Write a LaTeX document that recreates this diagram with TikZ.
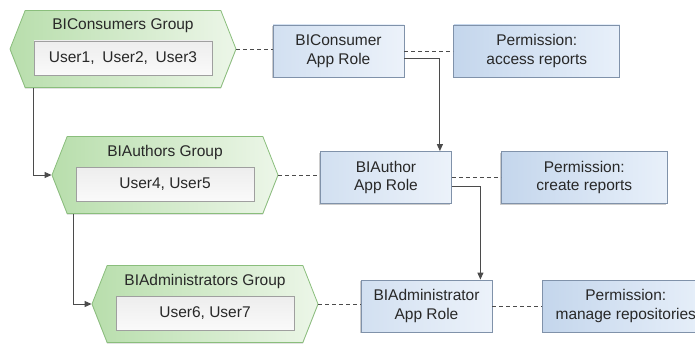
\documentclass[tikz,border=0pt]{standalone}
\usepackage{fontspec}
\setmainfont{Liberation Sans}
\usepackage{tikz}
\usetikzlibrary{shapes.symbols,arrows.meta,positioning,calc,shadows}
\definecolor{grpGreenA}{RGB}{184,222,172}
\definecolor{grpGreenB}{RGB}{236,246,232}
\definecolor{grpEdge}{RGB}{138,190,124}
\definecolor{roleBlueA}{RGB}{210,224,241}
\definecolor{roleBlueB}{RGB}{236,242,250}
\definecolor{permBlueA}{RGB}{196,214,236}
\definecolor{permBlueB}{RGB}{232,240,250}
\definecolor{boxEdge}{RGB}{128,146,170}
\definecolor{lineGray}{RGB}{75,75,75}
\definecolor{txtGray}{RGB}{40,40,40}
\tikzset{
  grp/.style={signal,signal to=west and east,signal pointer angle=137,draw=grpEdge,line width=0.8pt,
              left color=grpGreenA,right color=grpGreenB,minimum width=226pt,minimum height=77pt,
              inner sep=0pt,drop shadow={shadow xshift=0pt,shadow yshift=-1.2pt,opacity=.35}},
  gtitle/.style={font=\fontsize{15.5}{18.5}\selectfont,text=txtGray,inner sep=0pt},
  users/.style={draw=gray!75,line width=0.8pt,top color=gray!14,bottom color=gray!4,
                minimum width=178pt,minimum height=34pt,inner sep=0pt,
                font=\fontsize{15.5}{18.5}\selectfont,text=txtGray,
                drop shadow={shadow xshift=1pt,shadow yshift=-1.2pt,opacity=.35}},
  role/.style={draw=boxEdge,line width=0.8pt,left color=roleBlueA,right color=roleBlueB,
               minimum width=131pt,minimum height=52pt,inner sep=0pt,align=center,
               font=\fontsize{15.5}{18.5}\selectfont,text=txtGray,
               drop shadow={shadow xshift=-1.2pt,shadow yshift=-1.2pt,opacity=.4}},
  perm/.style={role,minimum width=166pt,left color=permBlueA,right color=permBlueB},
  arr/.style={-{Triangle[length=7pt,width=6pt]},line width=1pt,lineGray},
  dline/.style={dashed,dash pattern=on 4pt off 3pt,line width=0.9pt,lineGray},
}
\begin{document}
\begin{tikzpicture}[x=1pt,y=-1pt,node distance=49pt]
  \clip (0,0) rectangle (695,345);

  \node[grp] (g1) at (123,49) {};
  \node[gtitle] (t1) at ([yshift=23pt]g1.center) {BIConsumers Group};
  \node[users] (u1) at ([yshift=-9pt]g1.center) {User1,\enspace User2,\enspace User3};

  \node[grp] (g2) at (165,175) {};
  \node[gtitle] (t2) at ([yshift=23pt]g2.center) {BIAuthors Group};
  \node[users] (u2) at ([yshift=-9pt]g2.center) {User4, User5};

  \node[grp] (g3) at (205,304) {};
  \node[gtitle] (t3) at ([yshift=23pt]g3.center) {BIAdministrators Group};
  \node[users] (u3) at ([yshift=-9pt]g3.center) {User6, User7};

  \node[role] (r1) at (338.5,51) {BIConsumer\\App Role};
  \node[role] (r2) at (386,177.5) {BIAuthor\\App Role};
  \node[role] (r3) at (426.5,306) {BIAdministrator\\App Role};

  \node[perm,right=of r1] (p1) {Permission:\\access reports};
  \node[perm,right=of r2] (p2) {Permission:\\create reports};
  \node[perm,right=50pt of r3] (p3) {Permission:\\manage repositories};

  \draw[dline] (g1.east) -- (g1.east -| r1.west);
  \draw[dline] (g2.east) -- (g2.east -| r2.west);
  \draw[dline] (g3.east) -- (g3.east -| r3.west);
  \draw[dline] (r1) -- (p1);
  \draw[dline] (r2) -- (p2);
  \draw[dline] (r3) -- (p3);

  \draw[arr] ([xshift=-90pt]g1.south) |- (g2.west);
  \draw[arr] ([xshift=-92pt]g2.south) |- (g3.west);
  \draw[arr] ([yshift=-7pt]r1.east) -| ([xshift=-12pt]r2.north east);
  \draw[arr] ([yshift=-8.5pt]r2.east) -| ([xshift=-12pt]r3.north east);
\end{tikzpicture}
\end{document}
